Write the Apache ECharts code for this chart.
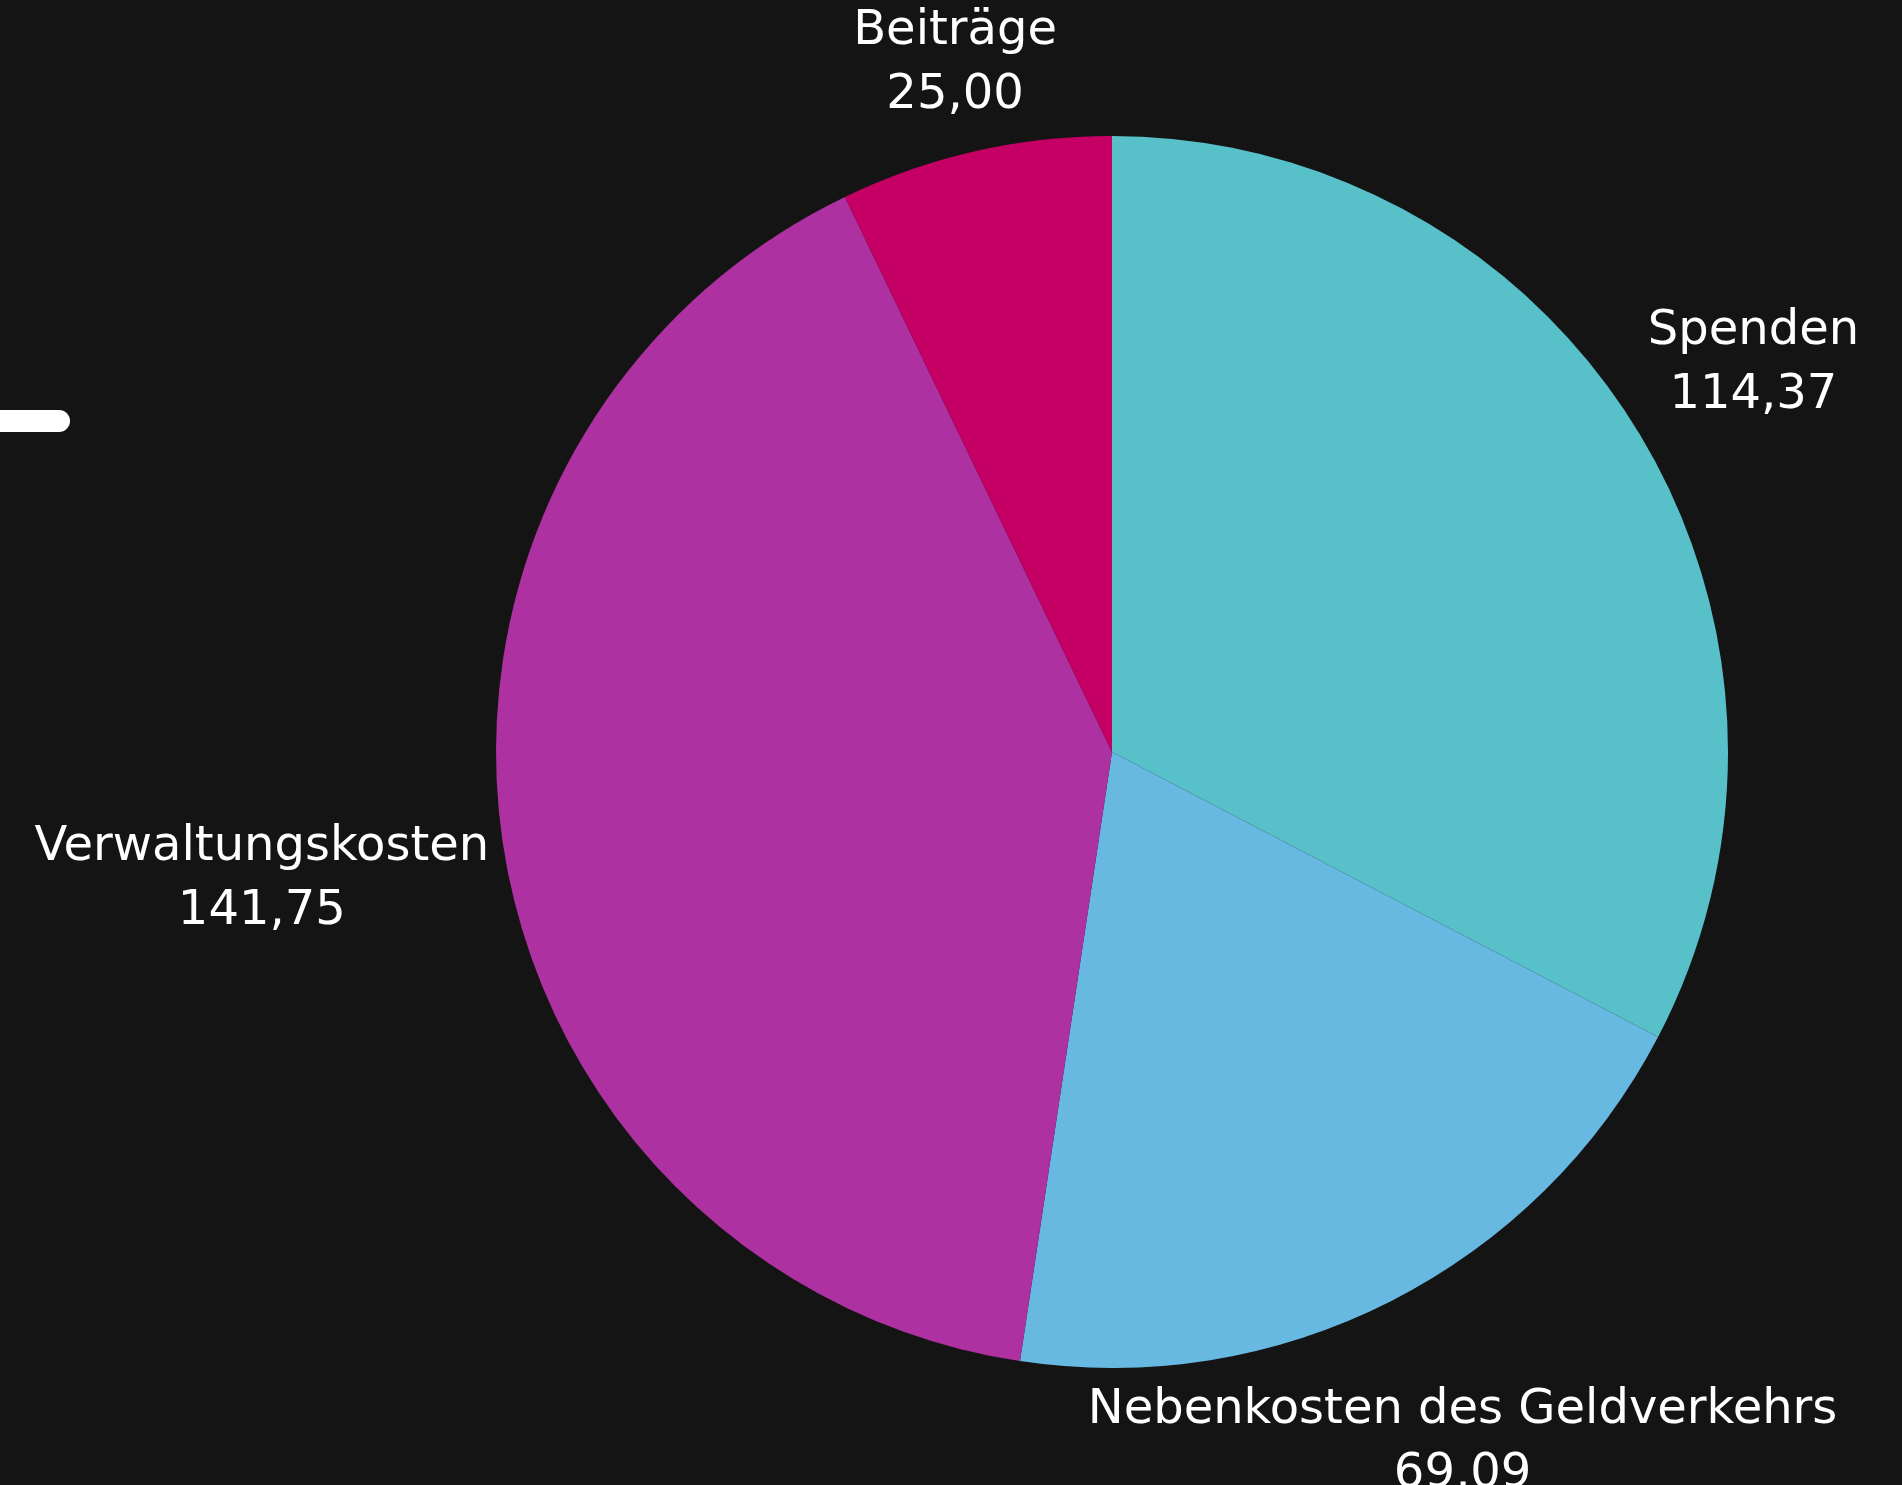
<!DOCTYPE html>
<html>
<head>
<meta charset="utf-8">
<script src="https://cdn.jsdelivr.net/npm/echarts@6/dist/echarts.min.js"></script>
<style>
html,body{margin:0;padding:0;background:#141414;}
#chart{width:1902px;height:1485px;}
</style>
</head>
<body>
<div id="chart"></div>
<script>
const categories = ['Spenden', 'Nebenkosten des Geldverkehrs', 'Verwaltungskosten', 'Beiträge'];
const values = [114.37, 69.09, 141.75, 25.00];
const colors = ['#57C0C9', '#68B9E2', '#AE31A1', '#C50064'];

const CX = 1112, CY = 752, R = 616, GAP = 10;
const total = values.reduce((a, b) => a + b, 0);
const midAngles = [];
let acc = 0;
values.forEach(v => { midAngles.push((acc + v / 2) / total * 2 * Math.PI); acc += v; });

function fmt(v) { return v.toFixed(2).replace('.', ','); }

const chart = echarts.init(document.getElementById('chart'));
chart.setOption({
  backgroundColor: '#141414',
  animation: false,
  graphic: [{
    type: 'rect', left: -20, top: 410,
    shape: { width: 90, height: 22, r: 11 },
    style: { fill: '#ffffff' }
  }],
  series: [{
    type: 'pie',
    center: [CX, CY],
    radius: R,
    startAngle: 90,
    clockwise: true,
    data: categories.map((c, i) => ({ name: c, value: values[i], itemStyle: { color: colors[i] } })),
    itemStyle: { borderWidth: 0 },
    label: {
      show: true,
      position: 'outside',
      color: '#ffffff',
      fontFamily: 'DejaVu Sans',
      fontSize: 48,
      lineHeight: 64,
      align: 'center',
      overflow: 'none',
      formatter: p => p.name + '\n' + fmt(p.value)
    },
    labelLine: { show: false },
    emphasis: { disabled: true },
    // place each label's box just outside the circle along the slice's mid angle
    labelLayout: function (params) {
      const a = midAngles[params.dataIndex];
      const ux = Math.sin(a), uy = -Math.cos(a);
      const hw = params.labelRect.width / 2, hh = params.labelRect.height / 2;
      let t = R;
      for (let k = 0; k < 200; k++) {
        const bx = CX + ux * t, by = CY + uy * t;
        const nx = Math.max(bx - hw, Math.min(CX, bx + hw));
        const ny = Math.max(by - hh, Math.min(CY, by + hh));
        const d = Math.hypot(nx - CX, ny - CY);
        if (d >= R + GAP) break;
        t += (R + GAP - d) + 0.5;
      }
      return { x: CX + ux * t, y: CY + uy * t, align: 'center', verticalAlign: 'middle' };
    }
  }]
});
</script>
</body>
</html>
